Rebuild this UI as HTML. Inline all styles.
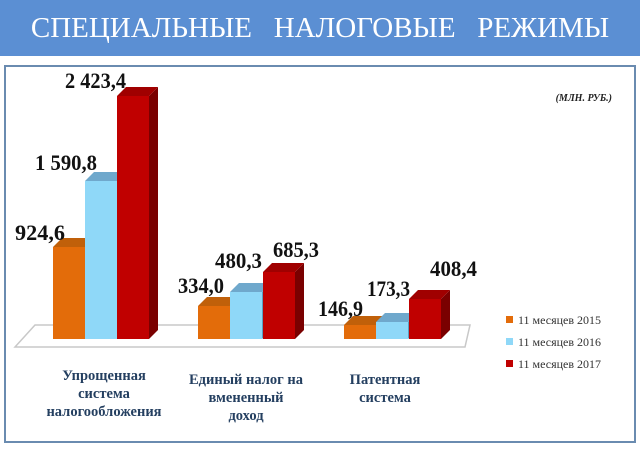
<!DOCTYPE html>
<html><head><meta charset="utf-8"><style>
body{margin:0;width:640px;height:448px;background:#fff;overflow:hidden;font-family:"Liberation Serif",serif}
</style></head><body>
<svg width="640" height="448" xmlns="http://www.w3.org/2000/svg" font-family="Liberation Serif, serif">
<rect x="0" y="0" width="640" height="56" fill="#5b8fd3"/>
<text x="320" y="37" text-anchor="middle" fill="#fff" font-size="29" xml:space="preserve">СПЕЦИАЛЬНЫЕ   НАЛОГОВЫЕ   РЕЖИМЫ</text>
<rect x="5" y="66" width="630" height="376" fill="#fff" stroke="#6a8bb0" stroke-width="2"/>
<text x="612" y="101" text-anchor="end" font-size="10" font-style="italic" font-weight="bold" fill="#222">(МЛН. РУБ.)</text>
<polygon points="15,347 35,325 470,325 465,347" fill="#fff" stroke="#c8c8c8" stroke-width="1.5"/>

<polygon points="85,247 94,238 94,330 85,339" fill="#a04a06"/><polygon points="53,247 62,238 94,238 85,247" fill="#c0600a"/><rect x="53" y="247" width="32" height="92" fill="#e36c0a"/>
<polygon points="117,181 126,172 126,330 117,339" fill="#5a9fc0"/><polygon points="85,181 94,172 126,172 117,181" fill="#6fa8cc"/><rect x="85" y="181" width="32" height="158" fill="#8fd8f8"/>
<polygon points="149,96 158,87 158,330 149,339" fill="#7a0000"/><polygon points="117,96 126,87 158,87 149,96" fill="#a00000"/><rect x="117" y="96" width="32" height="243" fill="#c00000"/>

<polygon points="230,306 239,297 239,330 230,339" fill="#a04a06"/><polygon points="198,306 207,297 239,297 230,306" fill="#c0600a"/><rect x="198" y="306" width="32" height="33" fill="#e36c0a"/>
<polygon points="262,292 271,283 271,330 262,339" fill="#5a9fc0"/><polygon points="230,292 239,283 271,283 262,292" fill="#6fa8cc"/><rect x="230" y="292" width="32" height="47" fill="#8fd8f8"/>
<polygon points="295,272 304,263 304,330 295,339" fill="#7a0000"/><polygon points="263,272 272,263 304,263 295,272" fill="#a00000"/><rect x="263" y="272" width="32" height="67" fill="#c00000"/>

<polygon points="376,325 385,316 385,330 376,339" fill="#a04a06"/><polygon points="344,325 353,316 385,316 376,325" fill="#c0600a"/><rect x="344" y="325" width="32" height="14" fill="#e36c0a"/>
<polygon points="408,322 417,313 417,330 408,339" fill="#5a9fc0"/><polygon points="376,322 385,313 417,313 408,322" fill="#6fa8cc"/><rect x="376" y="322" width="32" height="17" fill="#8fd8f8"/>
<polygon points="441,299 450,290 450,330 441,339" fill="#7a0000"/><polygon points="409,299 418,290 450,290 441,299" fill="#a00000"/><rect x="409" y="299" width="32" height="40" fill="#c00000"/>

<g font-size="22" font-weight="bold" fill="#111">
<text x="15" y="240" textLength="50" lengthAdjust="spacingAndGlyphs">924,6</text>
<text x="35" y="170" textLength="62" lengthAdjust="spacingAndGlyphs">1 590,8</text>
<text x="65" y="88" textLength="61" lengthAdjust="spacingAndGlyphs">2 423,4</text>
<text x="178" y="293" textLength="46" lengthAdjust="spacingAndGlyphs">334,0</text>
<text x="215" y="268" textLength="47" lengthAdjust="spacingAndGlyphs">480,3</text>
<text x="273" y="257" textLength="46" lengthAdjust="spacingAndGlyphs">685,3</text>
<text x="318" y="316" textLength="45" lengthAdjust="spacingAndGlyphs">146,9</text>
<text x="367" y="296" textLength="43" lengthAdjust="spacingAndGlyphs">173,3</text>
<text x="430" y="276" textLength="47" lengthAdjust="spacingAndGlyphs">408,4</text>
</g>
<g font-size="12" fill="#333">
<rect x="506" y="316" width="7" height="7" fill="#e36c0a"/><text x="518" y="324">11 месяцев 2015</text>
<rect x="506" y="338" width="7" height="7" fill="#8fd8f8"/><text x="518" y="346">11 месяцев 2016</text>
<rect x="506" y="360" width="7" height="7" fill="#c00000"/><text x="518" y="368">11 месяцев 2017</text>
</g>
<g font-size="14.5" font-weight="bold" fill="#243f60" text-anchor="middle">
<text x="104" y="380">Упрощенная</text><text x="104" y="398">система</text><text x="104" y="416">налогообложения</text>
<text x="246" y="384">Единый налог на</text><text x="246" y="402">вмененный</text><text x="246" y="420">доход</text>
<text x="385" y="384">Патентная</text><text x="385" y="402">система</text>
</g>
</svg>
</body></html>
